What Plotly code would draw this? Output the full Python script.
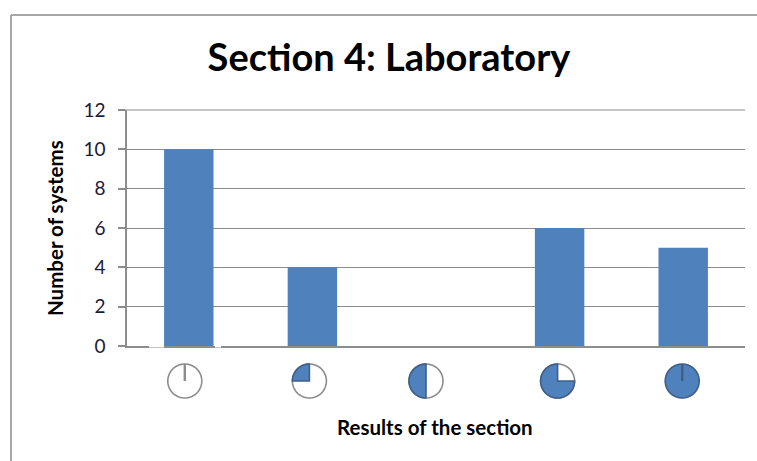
import numpy as np
import plotly.graph_objects as go

W, H = 757, 461
results = ["0%", "25%", "50%", "75%", "100%"]
filled = [0, 0.25, 0.5, 0.75, 1]
systems = [10, 4, 0, 6, 5]
y_ticks = [0, 2, 4, 6, 8, 10, 12]

BLUE = "#4F81BD"
GRAY = "#8C8C8C"
DARK = "#3F5F88"
FONT = "Lato"
L, R, T, B = 127, 745, 110, 346
ICON_SHIFT = [-4, -3, -10, -2, -1]  # icons sit a little left of their bars
ICON_R = 17


def px(x):
    return (x - L) / (R - L)


def py(y):
    return (B - y) / (B - T)


def sector(frac, dx, r=ICON_R, n=60):
    ang = np.linspace(0, 2 * np.pi * frac, n)
    pts = [f"{dx - r*np.sin(a):.2f},{r*np.cos(a):.2f}" for a in ang]
    return f"M{dx},0 L" + " L".join(pts) + " Z"


def circle(dx, r=ICON_R, n=90):
    ang = np.linspace(0, 2 * np.pi, n, endpoint=False)
    pts = [f"{dx + r*np.sin(a):.2f},{r*np.cos(a):.2f}" for a in ang]
    return "M" + " L".join(pts) + " Z"


fig = go.Figure(go.Bar(x=results, y=systems, marker=dict(color=BLUE, line_width=0), width=0.4))

shapes = [
    # outer chart frame, open to the right and bottom
    dict(type="line", xref="paper", yref="paper", x0=px(11), x1=px(W), y0=py(15), y1=py(15),
         line=dict(color="#A6A6A6", width=2)),
    dict(type="line", xref="paper", yref="paper", x0=px(11), x1=px(11), y0=py(15), y1=py(H),
         line=dict(color="#A6A6A6", width=2)),
    # top gridline, which the axis leaves out at the range end
    dict(type="line", xref="paper", yref="paper", x0=px(120), x1=1, y0=1, y1=1,
         line=dict(color=GRAY, width=1.2)),
    # gaps in the baseline either side of the first bar
    dict(type="line", xref="paper", yref="paper", layer="above", x0=px(149), x1=px(164), y0=0, y1=0,
         line=dict(color="white", width=3)),
    dict(type="line", xref="paper", yref="paper", layer="above", x0=px(215), x1=px(221), y0=0, y1=0,
         line=dict(color="white", width=3)),
]
for name, f, dx in zip(results, filled, ICON_SHIFT):
    common = dict(xref="x", yref="paper", xsizemode="pixel", ysizemode="pixel",
                  xanchor=name, yanchor=py(381), layer="above")
    edge = DARK if f == 1 else GRAY
    fill = BLUE if f == 1 else "white"
    shapes.append(dict(type="path", path=circle(dx), fillcolor=fill,
                       line=dict(color=edge, width=1.6), **common))
    if 0 < f < 1:
        shapes.append(dict(type="path", path=sector(f, dx), fillcolor=BLUE,
                           line=dict(color=DARK, width=1.6), **common))
    if f in (0, 1):
        shapes.append(dict(type="path", path=f"M{dx},{ICON_R} L{dx},0",
                           line=dict(color=edge, width=2.4), **common))

fig.update_layout(
    width=W, height=H,
    margin=dict(l=L, r=W - R, t=T, b=H - B, autoexpand=False),
    paper_bgcolor="white", plot_bgcolor="white",
    showlegend=False, shapes=shapes,
    font=dict(family=FONT, color="#1A1A3A"),
    title=dict(text="<b>Section 4: Laboratory</b>", x=389 / W, xanchor="center",
               y=1 - 58 / H, yanchor="middle",
               font=dict(family=FONT, size=38, color="#000000")),
    annotations=[
        dict(text="<b>Results of the section</b>", xref="paper", yref="paper",
             x=px(435), y=py(427), showarrow=False,
             xanchor="center", yanchor="middle", font=dict(family=FONT, size=20.5, color="#000000")),
        dict(text="<b>Number of systems</b>", xref="paper", yref="paper", textangle=-90,
             x=px(55), y=py(228), showarrow=False,
             xanchor="center", yanchor="middle", font=dict(family=FONT, size=20.5, color="#000000")),
    ],
    xaxis=dict(type="category", categoryorder="array", categoryarray=results, showticklabels=False,
               ticks="", showgrid=False, showline=True, linecolor=GRAY, linewidth=1.5, zeroline=False),
    yaxis=dict(range=[0, 12], tickvals=y_ticks, ticks="outside", ticklen=7, tickcolor=GRAY, tickwidth=1.5,
               ticklabelstandoff=9,
               showgrid=True, gridcolor=GRAY, gridwidth=1.2, showline=True, linecolor=GRAY, linewidth=1.5,
               zeroline=False, tickfont=dict(family=FONT, size=19, color="#1A1A3A")),
)

fig.write_html("out.html", config={"displayModeBar": False},
               post_script="document.body.style.margin='0';document.body.style.overflow='hidden';")
